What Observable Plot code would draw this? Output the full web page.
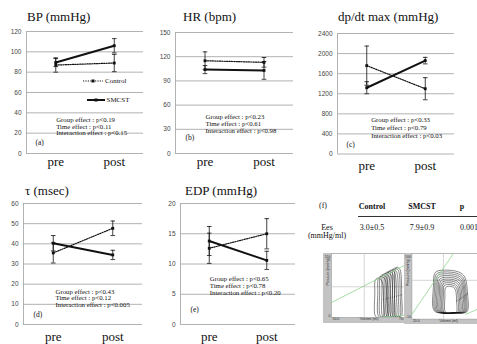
<!DOCTYPE html>
<html><head><meta charset="utf-8">
<script src="https://cdn.jsdelivr.net/npm/d3@7"></script>
<script src="https://cdn.jsdelivr.net/npm/@observablehq/plot@0.6"></script>
<style>
body{margin:0;background:#fff;}
#root{position:relative;width:477px;height:344px;overflow:hidden;background:#fff;font-family:"Liberation Serif","Times New Roman",Times,serif;color:#111;}
.abs{position:absolute;white-space:nowrap;line-height:1;font-weight:normal;}
.c{transform:translate(-50%,-50%);}
.m{transform:translate(0,-50%);}
</style></head><body><div id="root"></div>
<script>
// ---------- data ----------
const times = ["pre", "post"];
const groups = ["Control", "SMCST"];

const bpControl = [87, 89],     bpControlSD = [7, 8.5];
const bpSMCST = [89.5, 106],    bpSMCSTSD = [4, 7];
const hrControl = [115, 113],   hrControlSD = [11, 6];
const hrSMCST = [104, 103],     hrSMCSTSD = [5, 11];
const dpControl = [1760, 1300], dpControlSD = [390, 220];
const dpSMCST = [1320, 1860],   dpSMCSTSD = [120, 65];
const tauControl = [35.5, 47.7], tauControlSD = [5, 3.6];
const tauSMCST = [40.3, 34.5],   tauSMCSTSD = [3.8, 2.3];
const edpControl = [12.6, 15.0], edpControlSD = [2.5, 2.5];
const edpSMCST = [13.8, 10.6],   edpSMCSTSD = [2.4, 1.5];

const bpTicks = [0, 20, 40, 60, 80, 100, 120];
const hrTicks = [0, 30, 60, 90, 120, 150];
const dpTicks = [0, 400, 800, 1200, 1600, 2000, 2400];
const tauTicks = [0, 10, 20, 30, 40, 50, 60];
const edpTicks = [0, 5, 10, 15, 20];

const notesA = ["Group effect : p<0.19", "Time effect : p<0.11", "Interaction effect : p<0.15"];
const notesB = ["Group effect : p<0.23", "Time effect : p<0.61", "Interaction effect : p<0.98"];
const notesC = ["Group effect : p<0.33", "Time effect : p<0.79", "Interaction effect : p<0.03"];
const notesD = ["Group effect : p<0.43", "Time effect : p<0.12", "Interaction effect : p<0.005"];
const notesE = ["Group effect : p<0.65", "Time effect : p<0.78", "Interaction effect : p<0.20"];

// table (f)
const tableHead = ["Control", "SMCST", "p"];
const tableRowLabel = ["Ees", "(mmHg/ml)"];
const tableRow = ["3.0\u00b10.5", "7.9\u00b10.9", "0.001"];

// PV loops: [ESV, EDV, peak pressure]
const loopsControl = [
  [61.5, 63.8, 92], [62.3, 64.6, 96], [62.8, 65.0, 100], [63.4, 65.6, 103], [64.0, 66.2, 106],
  [64.5, 66.7, 108], [65.0, 67.2, 111], [65.6, 67.7, 113], [66.2, 68.2, 116], [66.8, 68.6, 118]
];
const loopsSMCST = [
  [28.8, 42.5, 72], [29.3, 42.0, 69], [29.8, 41.6, 66], [30.3, 41.2, 63], [30.8, 40.8, 60],
  [31.3, 40.3, 57], [31.8, 39.8, 54], [32.3, 39.3, 51], [32.8, 38.8, 48], [33.5, 38.2, 45]
];
const espvrControl = [[50, 35], [70, 125]];
const edpvrControl = [[62, 0], [70, 6]];
const espvrSMCST = [[20, -2], [37, 100]];
const edpvrSMCST = [[42, -2], [50, 12]];
const pvControlXTicks = [50, 70], pvControlYTicks = [0, 150];
const pvSMCSTXTicks = [20], pvSMCSTYTicks = [-10, 100];

// ---------- helpers ----------
const SERIF = "Liberation Serif, Times New Roman, serif";
const SANS = "Liberation Sans, Arial, sans-serif";
const root = document.getElementById("root");
function place(node, left, top) {
  node.style.position = "absolute";
  node.style.left = left + "px";
  node.style.top = top + "px";
  node.style.background = "transparent";
  node.style.maxWidth = "none";
  root.appendChild(node);
}
function html(txt, left, top, style, cls) {
  const d = document.createElement("div");
  d.className = "abs " + (cls || "");
  d.textContent = txt;
  d.style.left = left + "px";
  d.style.top = top + "px";
  Object.assign(d.style, style || {});
  root.appendChild(d);
  return d;
}
const cap = {draw(ctx) { ctx.moveTo(-2.3, 0); ctx.lineTo(2.3, 0); }};

function panel(cfg) {
  const mL = 24, mR = 4, mT = 4, mB = 24;
  const long = [];
  times.forEach((t, i) => {
    long.push({g: "Control", i: i + 1, m: cfg.ctrl[i], sd: cfg.ctrlSD[i]});
    long.push({g: "SMCST", i: i + 1, m: cfg.smc[i], sd: cfg.smcSD[i]});
  });
  const svg = Plot.plot({
    width: (cfg.R - cfg.L) + mL + mR,
    height: (cfg.B - cfg.T) + mT + mB,
    marginLeft: mL, marginRight: mR, marginTop: mT, marginBottom: mB,
    style: {fontFamily: SERIF, background: "transparent", overflow: "visible"},
    x: {domain: [0.5, 2.5], label: null},
    y: {domain: [cfg.yTicks[0], cfg.yTicks[cfg.yTicks.length - 1]], label: null},
    marks: [
      Plot.ruleY(cfg.yTicks, {stroke: "#a9a9a9", strokeWidth: 0.9}),
      Plot.ruleX([0.5], {stroke: "#a9a9a9", strokeWidth: 0.9}),
      Plot.axisY({ticks: cfg.yTicks, tickFormat: d3.format("d"), tickSize: 0, tickPadding: 5, fontSize: 6.5, fontFamily: SANS, color: "#444", label: null}),
      Plot.axisX({ticks: [1, 2], tickFormat: d => times[d - 1], tickSize: 0, tickPadding: cfg.xPad, fontSize: 13, fontFamily: SERIF, color: "#111", label: null}),
      Plot.ruleX(long, {x: "i", y1: d => d.m - d.sd, y2: d => d.m + d.sd, stroke: "#111", strokeWidth: 0.8}),
      Plot.dot(long, {x: "i", y: d => d.m - d.sd, symbol: cap, stroke: "#111", strokeWidth: 0.8, fill: "none"}),
      Plot.dot(long, {x: "i", y: d => d.m + d.sd, symbol: cap, stroke: "#111", strokeWidth: 0.8, fill: "none"}),
      Plot.line(long.filter(d => d.g === "Control"), {x: "i", y: "m", stroke: "#111", strokeWidth: 1.2, strokeDasharray: "1.2,1.2"}),
      Plot.line(long.filter(d => d.g === "SMCST"), {x: "i", y: "m", stroke: "#111", strokeWidth: 2}),
      Plot.dot(long, {x: "i", y: "m", symbol: "square", r: 1.6, fill: "#111"}),
      Plot.text([cfg.notes.join("\n")], {frameAnchor: "top-left", dx: cfg.ndx, dy: cfg.ndy, textAnchor: "start", lineAnchor: "top", lineHeight: cfg.lh, fontSize: 6.8, fontFamily: SERIF, fill: "#111"}),
      Plot.text([cfg.tag], {frameAnchor: "top-left", dx: cfg.tdx, dy: cfg.tdy, textAnchor: "start", lineAnchor: "middle", fontSize: 7.5, fontFamily: SERIF, fill: "#111"})
    ]
  });
  place(svg, cfg.L - mL, cfg.T - mT);
  const fs = 13;
  html(cfg.title, cfg.titleX, cfg.titleBase - 0.8375 * fs, {fontSize: fs + "px"});
}

panel({title: "BP (mmHg)", titleX: 27, titleBase: 20.7, L: 26, R: 143, T: 31, B: 153, yTicks: bpTicks,
  ctrl: bpControl, ctrlSD: bpControlSD, smc: bpSMCST, smcSD: bpSMCSTSD, xPad: 3,
  notes: notesA, ndx: 29.7, ndy: 85.6, lh: 0.985, tag: "(a)", tdx: 9, tdy: 111});
panel({title: "HR (bpm)", titleX: 183, titleBase: 20.7, L: 175, R: 293, T: 32, B: 153, yTicks: hrTicks,
  ctrl: hrControl, ctrlSD: hrControlSD, smc: hrSMCST, smcSD: hrSMCSTSD, xPad: 3,
  notes: notesB, ndx: 30, ndy: 81.3, lh: 1.06, tag: "(b)", tdx: 10, tdy: 104.7});
panel({title: "dp/dt max (mmHg)", titleX: 338, titleBase: 21, L: 337, R: 454, T: 32.5, B: 153, yTicks: dpTicks,
  ctrl: dpControl, ctrlSD: dpControlSD, smc: dpSMCST, smcSD: dpSMCSTSD, xPad: 7,
  notes: notesC, ndx: 33.7, ndy: 83.4, lh: 1.13, tag: "(c)", tdx: 9, tdy: 111.5});
panel({title: "\u03c4 (msec)", titleX: 25, titleBase: 195, L: 23, R: 142, T: 203, B: 324, yTicks: tauTicks,
  ctrl: tauControl, ctrlSD: tauControlSD, smc: tauSMCST, smcSD: tauSMCSTSD, xPad: 7,
  notes: notesD, ndx: 32, ndy: 85.3, lh: 0.985, tag: "(d)", tdx: 10, tdy: 111});
panel({title: "EDP (mmHg)", titleX: 185, titleBase: 195, L: 180, R: 295, T: 203, B: 324, yTicks: edpTicks,
  ctrl: edpControl, ctrlSD: edpControlSD, smc: edpSMCST, smcSD: edpSMCSTSD, xPad: 7,
  notes: notesE, ndx: 29.3, ndy: 72.9, lh: 0.985, tag: "(e)", tdx: 10, tdy: 106.3});

// legend of (a)
(function legend() {
  const mk = (y, x1, x2, dash, w) => {
    const ns = "http://www.w3.org/2000/svg";
    const s = document.createElementNS(ns, "svg");
    s.setAttribute("width", 30); s.setAttribute("height", 8);
    s.style.position = "absolute"; s.style.left = x1 + "px"; s.style.top = (y - 4) + "px";
    const l = document.createElementNS(ns, "line");
    l.setAttribute("x1", 0); l.setAttribute("x2", x2 - x1); l.setAttribute("y1", 4); l.setAttribute("y2", 4);
    l.setAttribute("stroke", "#111"); l.setAttribute("stroke-width", w);
    if (dash) l.setAttribute("stroke-dasharray", dash);
    s.appendChild(l);
    const r = document.createElementNS(ns, "rect");
    r.setAttribute("x", (x2 - x1) / 2 - 1.5); r.setAttribute("y", 2.5); r.setAttribute("width", 3); r.setAttribute("height", 3);
    r.setAttribute("fill", "#111");
    s.appendChild(r);
    root.appendChild(s);
  };
  mk(81, 83, 103, "1.2,1.2", 1.2);
  html(groups[0], 105, 81, {fontSize: "7px"}, "m");
  mk(100, 87, 105, null, 2);
  html(groups[1], 106.5, 100, {fontSize: "7px"}, "m");
})();

// table (f)
html("(f)", 323, 206, {fontSize: "8px"}, "c");
[372, 422, 462].forEach((x, i) => html(tableHead[i], x, 207, {fontSize: "8px", fontWeight: "bold"}, "c"));
const hr = document.createElement("div");
Object.assign(hr.style, {position: "absolute", left: "358px", top: "215.5px", width: "130px", height: "0", borderTop: "1px solid #333"});
root.appendChild(hr);
html(tableRowLabel[0], 327, 228, {fontSize: "8px"}, "c");
html(tableRowLabel[1], 327, 236, {fontSize: "8px"}, "c");
html(tableRow[0], 372, 228, {fontSize: "8px"}, "c");
html(tableRow[1], 422, 228, {fontSize: "8px"}, "c");
html(tableRow[2], 460, 228, {fontSize: "8px"}, "m");

// PV loops
const loopShape = [[1.0, 0.03], [1.02, 0.45], [0.93, 0.85], [0.75, 0.96], [0.3, 1.0], [0.06, 0.95], [0.0, 0.6], [0.02, 0.06], [0.25, 0.0], [0.7, 0.01]];
function pv(cfg) {
  const pts = [];
  cfg.loops.forEach(([esv, edv, peak], k) => loopShape.forEach(([fx, fy]) => pts.push({k, v: esv + fx * (edv - esv), p: fy * peak})));
  const line = a => a.map(([v, p]) => ({v, p}));
  const f1 = d3.format(".1f");
  const svg = Plot.plot({
    width: cfg.w, height: cfg.h,
    marginLeft: cfg.mL, marginRight: cfg.mR, marginTop: 0, marginBottom: cfg.mB,
    style: {background: "#c3c3c3", fontFamily: SANS, overflow: "visible"},
    x: {domain: cfg.xd, label: null, axis: null},
    y: {domain: cfg.yd, label: null, axis: null},
    marks: [
      Plot.frame({fill: "white", stroke: "#999", strokeWidth: 0.6}),
      Plot.ruleX([cfg.gx], {stroke: "#bbb", strokeWidth: 0.6}),
      Plot.ruleY([cfg.gy], {stroke: "#bbb", strokeWidth: 0.6}),
      Plot.line(pts, {x: "v", y: "p", z: "k", curve: "catmull-rom-closed", stroke: "#111", strokeWidth: 0.5, clip: true}),
      Plot.line(line(cfg.espvr), {x: "v", y: "p", stroke: "#8fd68f", strokeWidth: 0.8, clip: true}),
      Plot.line(line(cfg.edpvr), {x: "v", y: "p", stroke: "#8fd68f", strokeWidth: 0.8, clip: true}),
      Plot.text(cfg.yt.slice(1), {y: d => d, frameAnchor: "left", textAnchor: "end", dx: -1, dy: 3, fontSize: 3.5, fill: "#333"}),
      Plot.text(cfg.yt.slice(0, 1), {y: d => d, frameAnchor: "left", textAnchor: "end", dx: -1, dy: -2, fontSize: 3.5, fill: "#333"}),
      Plot.text(cfg.xt.slice(0, 1), {x: d => d, text: f1, frameAnchor: "bottom", textAnchor: "start", dx: 1, dy: 3, fontSize: 3.5, fill: "#333"}),
      Plot.text(cfg.xt.slice(1), {x: d => d, text: f1, frameAnchor: "bottom", textAnchor: "end", dx: -1, dy: 3, fontSize: 3.5, fill: "#333"}),
      Plot.text(["Volume (ml)"], {frameAnchor: "bottom", dy: 3, fontSize: 3.5, fill: "#333"}),
      Plot.text(["Pressure (mmHg)"], {frameAnchor: "left", dx: -4, rotate: -90, fontSize: 3.5, fill: "#333"})
    ]
  });
  place(svg, cfg.left, cfg.top);
  svg.style.background = "#c3c3c3";
}
pv({loops: loopsControl, espvr: espvrControl, edpvr: edpvrControl, xd: [50, 70], yd: [0, 150], xt: pvControlXTicks, yt: pvControlYTicks,
  gx: 58.7, gy: 72, w: 84.6, h: 70, mL: 8, mR: 1.3, mB: 6, left: 322.7, top: 252.7});
pv({loops: loopsSMCST, espvr: espvrSMCST, edpvr: edpvrSMCST, xd: [20, 50], yd: [-10, 100], xt: pvSMCSTXTicks, yt: pvSMCSTYTicks,
  gx: 32.9, gy: 55, w: 82, h: 71.3, mL: 7.4, mR: 1.3, mB: 5.7, left: 404.3, top: 252.7});
</script></body></html>
